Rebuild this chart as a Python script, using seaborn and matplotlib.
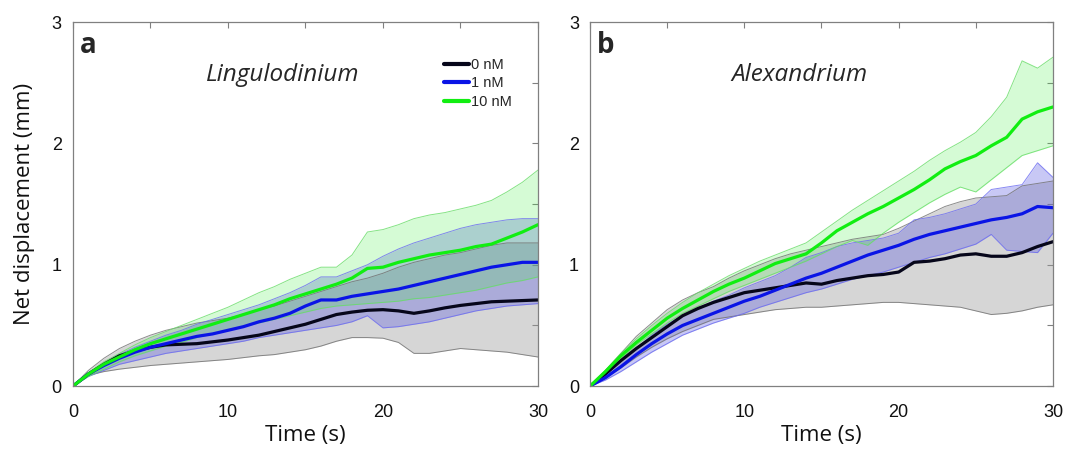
#!/usr/bin/env python3
# Net displacement vs time for two dinoflagellates at three concentrations

import matplotlib
matplotlib.use('Agg')
import matplotlib.pyplot as plt
import numpy as np
import pandas as pd
import seaborn as sns

# time axis (s), shared by every series
time = list(range(31))
concs = ['0 nM', '1 nM', '10 nM']

# ---- Lingulodinium (panel a)
ling_mean_0 = [0, 0.10, 0.18, 0.25, 0.29, 0.32, 0.34, 0.345, 0.35, 0.365, 0.38, 0.40, 0.42, 0.45, 0.48, 0.51,
               0.55, 0.59, 0.61, 0.625, 0.63, 0.62, 0.60, 0.62, 0.645, 0.665, 0.68, 0.695, 0.70, 0.705, 0.71]
ling_hi_0 = [0, 0.13, 0.23, 0.31, 0.37, 0.42, 0.46, 0.49, 0.52, 0.54, 0.56, 0.59, 0.63, 0.66, 0.70, 0.74,
             0.78, 0.82, 0.86, 0.89, 0.93, 0.98, 1.02, 1.05, 1.08, 1.10, 1.13, 1.16, 1.18, 1.18, 1.18]
ling_lo_0 = [0, 0.09, 0.12, 0.14, 0.155, 0.17, 0.18, 0.19, 0.20, 0.21, 0.22, 0.235, 0.25, 0.26, 0.28, 0.30,
             0.33, 0.37, 0.40, 0.40, 0.395, 0.36, 0.27, 0.27, 0.29, 0.31, 0.30, 0.29, 0.28, 0.26, 0.24]
ling_mean_1 = [0, 0.10, 0.17, 0.23, 0.28, 0.32, 0.35, 0.38, 0.41, 0.43, 0.46, 0.49, 0.53, 0.56, 0.60, 0.66,
               0.71, 0.71, 0.74, 0.76, 0.78, 0.80, 0.83, 0.86, 0.89, 0.92, 0.95, 0.98, 1.00, 1.02, 1.02]
ling_hi_1 = [0, 0.11, 0.19, 0.26, 0.32, 0.37, 0.42, 0.46, 0.51, 0.55, 0.59, 0.63, 0.67, 0.72, 0.77, 0.83,
             0.90, 0.90, 0.95, 1.00, 1.07, 1.13, 1.18, 1.22, 1.26, 1.30, 1.33, 1.35, 1.37, 1.38, 1.38]
ling_lo_1 = [0, 0.08, 0.13, 0.18, 0.21, 0.24, 0.27, 0.29, 0.31, 0.33, 0.35, 0.37, 0.40, 0.42, 0.44, 0.46,
             0.48, 0.50, 0.53, 0.58, 0.48, 0.49, 0.51, 0.53, 0.56, 0.59, 0.62, 0.64, 0.66, 0.67, 0.68]
ling_mean_10 = [0, 0.10, 0.18, 0.24, 0.30, 0.35, 0.39, 0.43, 0.47, 0.51, 0.55, 0.59, 0.63, 0.67, 0.72, 0.76,
                0.80, 0.84, 0.89, 0.97, 0.98, 1.02, 1.05, 1.08, 1.10, 1.12, 1.15, 1.17, 1.22, 1.27, 1.33]
ling_hi_10 = [0, 0.11, 0.20, 0.27, 0.34, 0.40, 0.45, 0.50, 0.55, 0.60, 0.65, 0.71, 0.77, 0.82, 0.88, 0.93,
              0.98, 0.98, 1.08, 1.27, 1.29, 1.33, 1.38, 1.41, 1.43, 1.46, 1.49, 1.53, 1.60, 1.68, 1.78]
ling_lo_10 = [0, 0.08, 0.14, 0.20, 0.25, 0.29, 0.33, 0.36, 0.40, 0.43, 0.46, 0.49, 0.52, 0.55, 0.58, 0.61,
              0.64, 0.66, 0.67, 0.68, 0.69, 0.70, 0.72, 0.73, 0.75, 0.77, 0.79, 0.82, 0.85, 0.87, 0.90]

# ---- Alexandrium (panel b)
alex_mean_0 = [0, 0.10, 0.21, 0.31, 0.40, 0.49, 0.58, 0.64, 0.69, 0.73, 0.77, 0.79, 0.81, 0.83, 0.85, 0.84,
               0.87, 0.89, 0.91, 0.92, 0.94, 1.02, 1.03, 1.05, 1.08, 1.09, 1.07, 1.07, 1.10, 1.15, 1.19]
alex_hi_0 = [0, 0.13, 0.27, 0.41, 0.52, 0.63, 0.71, 0.77, 0.82, 0.89, 0.95, 1.00, 1.05, 1.09, 1.12, 1.15,
             1.18, 1.21, 1.23, 1.25, 1.30, 1.36, 1.42, 1.48, 1.52, 1.55, 1.56, 1.57, 1.65, 1.67, 1.69]
alex_lo_0 = [0, 0.07, 0.15, 0.24, 0.32, 0.39, 0.45, 0.50, 0.55, 0.57, 0.59, 0.61, 0.63, 0.64, 0.65, 0.65,
             0.66, 0.67, 0.68, 0.69, 0.69, 0.68, 0.67, 0.66, 0.65, 0.62, 0.59, 0.60, 0.62, 0.65, 0.67]
alex_mean_1 = [0, 0.07, 0.16, 0.26, 0.35, 0.43, 0.50, 0.55, 0.60, 0.65, 0.70, 0.74, 0.79, 0.84, 0.89, 0.93,
               0.98, 1.03, 1.08, 1.12, 1.16, 1.21, 1.25, 1.28, 1.31, 1.34, 1.37, 1.39, 1.42, 1.48, 1.47]
alex_hi_1 = [0, 0.09, 0.20, 0.31, 0.42, 0.51, 0.58, 0.64, 0.70, 0.75, 0.81, 0.86, 0.91, 0.98, 1.06, 1.10,
             1.15, 1.18, 1.20, 1.22, 1.26, 1.37, 1.39, 1.42, 1.46, 1.50, 1.62, 1.64, 1.66, 1.84, 1.72]
alex_lo_1 = [0, 0.05, 0.12, 0.20, 0.28, 0.35, 0.42, 0.47, 0.52, 0.56, 0.60, 0.65, 0.69, 0.73, 0.77, 0.80,
             0.84, 0.88, 0.91, 0.94, 0.98, 1.02, 1.06, 1.09, 1.13, 1.17, 1.25, 1.12, 1.11, 1.10, 1.26]
alex_mean_10 = [0, 0.12, 0.25, 0.36, 0.46, 0.56, 0.64, 0.71, 0.78, 0.84, 0.89, 0.95, 1.01, 1.05, 1.09, 1.18,
                1.28, 1.35, 1.42, 1.48, 1.55, 1.62, 1.70, 1.79, 1.85, 1.90, 1.98, 2.05, 2.20, 2.26, 2.30]
alex_hi_10 = [0, 0.13, 0.27, 0.39, 0.50, 0.60, 0.69, 0.77, 0.84, 0.91, 0.97, 1.03, 1.08, 1.13, 1.18, 1.27,
              1.36, 1.45, 1.53, 1.61, 1.69, 1.77, 1.86, 1.94, 2.01, 2.09, 2.22, 2.38, 2.68, 2.62, 2.71]
alex_lo_10 = [0, 0.11, 0.23, 0.34, 0.43, 0.52, 0.60, 0.66, 0.72, 0.78, 0.83, 0.88, 0.93, 0.98, 1.03, 1.09,
              1.15, 1.20, 1.16, 1.26, 1.35, 1.43, 1.51, 1.58, 1.64, 1.60, 1.70, 1.80, 1.90, 1.94, 1.98]

line_colors = {'0 nM': '#06061a', '1 nM': '#0a14e6', '10 nM': '#11ee11'}
fill_colors = {'0 nM': '#9a9a9a', '1 nM': '#4a4ae0', '10 nM': '#44ee44'}
fill_alpha = {'0 nM': 0.4, '1 nM': 0.3, '10 nM': 0.22}
edge_colors = {'0 nM': '#6f6f6f', '1 nM': '#6a6af0', '10 nM': '#66dd66'}

sns.set_style('white')
plt.rcParams['font.family'] = ['Open Sans', 'DejaVu Sans']

################


def build_df(means):
  rows = []
  for conc, vals in zip(concs, means):
    for t, v in zip(time, vals):
      rows.append({'time': t, 'disp': v, 'conc': conc})
  return pd.DataFrame(rows)


def draw_panel(ax, means, his, los, letter, species, show_legend):
  for conc, hi, lo in zip(concs, his, los):
    ax.fill_between(time, lo, hi, color=fill_colors[conc], alpha=fill_alpha[conc], lw=0)
    ax.plot(time, hi, color=edge_colors[conc], lw=0.7, alpha=0.8)
    ax.plot(time, lo, color=edge_colors[conc], lw=0.7, alpha=0.8)

  df = build_df(means)
  sns.lineplot(data=df, x='time', y='disp', hue='conc', hue_order=concs,
               palette=line_colors, linewidth=2.3, ax=ax, legend=show_legend)

  ax.set_xlim(0, 30)
  ax.set_ylim(0, 3)
  ax.set_xticks(np.arange(0, 31, 5))
  ax.set_xticklabels(['0', '', '10', '', '20', '', '30'])
  ax.set_yticks(np.arange(0, 3.01, 0.5))
  ax.set_yticklabels(['0', '', '1', '', '2', '', '3'])
  ax.tick_params(direction='in', top=True, right=True, length=4, width=0.8,
                 color='#808080', labelsize=13, labelcolor='#111111')
  ax.tick_params(axis='x', pad=13)
  ax.tick_params(axis='y', pad=8)
  for lab in ax.get_xticklabels() + ax.get_yticklabels():
    lab.set_family(['Liberation Sans', 'DejaVu Sans'])
  for sp in ax.spines.values():
    sp.set_color('#808080')
    sp.set_linewidth(0.9)
  ax.set_xlabel('Time (s)', fontsize=16, labelpad=3, color='#111111')

  ax.text(0.014, 0.975, letter, transform=ax.transAxes, fontsize=20, fontweight='bold',
          va='top', ha='left')
  ax.text(0.452, 0.855, species, transform=ax.transAxes, fontsize=17.5, style='italic',
          va='center', ha='center')

  if show_legend:
    handles, labels = ax.get_legend_handles_labels()
    leg = ax.legend(handles, labels, loc='upper left', bbox_to_anchor=(0.797, 0.901),
                    frameon=False, handlelength=1.75, handletextpad=0.15,
                    labelspacing=0.3, borderaxespad=0, borderpad=0,
                    prop={'family': 'Liberation Sans', 'size': 10.5})
    for ln in leg.get_lines():
      ln.set_linewidth(3)


fig = plt.figure(figsize=(10.65, 4.49), dpi=100)
axA = fig.add_axes([0.0685, 0.140, 0.4366, 0.811])
axB = fig.add_axes([0.554, 0.140, 0.4347, 0.811])

draw_panel(axA, [ling_mean_0, ling_mean_1, ling_mean_10],
           [ling_hi_0, ling_hi_1, ling_hi_10],
           [ling_lo_0, ling_lo_1, ling_lo_10], 'a', 'Lingulodinium', True)
draw_panel(axB, [alex_mean_0, alex_mean_1, alex_mean_10],
           [alex_hi_0, alex_hi_1, alex_hi_10],
           [alex_lo_0, alex_lo_1, alex_lo_10], 'b', 'Alexandrium', False)

axA.set_ylabel('Net displacement (mm)', fontsize=16, color='#111111', labelpad=12)
axB.set_ylabel('')

fig.savefig('out.png', dpi=100)
